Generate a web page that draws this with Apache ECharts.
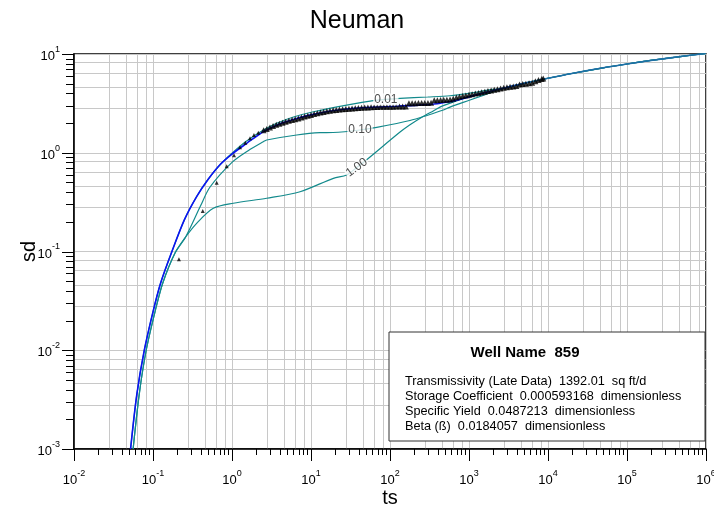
<!DOCTYPE html>
<html>
<head>
<meta charset="utf-8">
<script src="https://cdn.jsdelivr.net/npm/echarts@6/dist/echarts.min.js"></script>
<style>
  html, body { margin: 0; padding: 0; background: #fff; }
  #chart { width: 714px; height: 510px; }
</style>
</head>
<body>
<div id="chart"></div>
<script>
// observed data (triangles)
var tsObs = [0.213, 0.426, 0.640, 0.857, 1.06, 1.263, 1.473, 1.69, 1.897, 2.152,
  2.512, 2.754, 3.020, 3.311, 3.631, 3.981, 4.365, 4.786, 5.248, 5.754, 6.310, 6.918, 7.586, 8.318, 9.120,
  10, 10.96, 12.02, 13.18, 14.45, 15.85, 17.38, 19.05, 20.89, 22.91, 25.12, 27.54, 30.20, 33.11, 36.31, 39.81, 43.65, 47.86, 52.48, 57.54, 63.10, 69.18, 75.86, 83.18, 91.20,
  100, 109.6, 120.2, 131.8, 144.5, 158.5, 173.8, 190.5, 208.9, 229.1, 251.2, 275.4, 302.0, 331.1, 363.1, 398.1, 436.5, 478.6, 524.8, 575.4, 631.0, 691.8, 758.6, 831.8, 912.0,
  1000, 1096, 1202, 1318, 1445, 1585, 1738, 1905, 2089, 2291, 2512, 2754, 3020, 3311, 3631, 3981, 4365, 4786, 5248, 5754, 6310, 6918, 7586, 8318, 8710];
var sdObs = [0.0834, 0.257, 0.497, 0.729, 0.942, 1.136, 1.264, 1.40, 1.512, 1.596,
  1.687, 1.741, 1.801, 1.861, 1.917, 1.968, 2.014, 2.060, 2.105, 2.144, 2.180, 2.223, 2.273, 2.323, 2.371,
  2.418, 2.464, 2.506, 2.549, 2.589, 2.627, 2.665, 2.690, 2.715, 2.736, 2.752, 2.768, 2.787, 2.807, 2.828, 2.840, 2.852, 2.865, 2.877, 2.889, 2.900, 2.911, 2.921, 2.923, 2.925,
  2.927, 2.929, 2.932, 2.934, 2.936, 2.938, 3.168, 3.173, 3.178, 3.183, 3.188, 3.194, 3.199, 3.204, 3.40, 3.41, 3.42, 3.44, 3.45, 3.47, 3.53, 3.63, 3.69, 3.75, 3.80,
  3.86, 3.92, 3.97, 4.03, 4.09, 4.15, 4.22, 4.28, 4.34, 4.40, 4.47, 4.54, 4.60, 4.65, 4.69, 4.74, 4.92, 4.97, 5.01, 5.06, 5.11, 5.29, 5.44, 5.59, 5.65];

// fitted curve (beta = 0.0184)
var tsFit = [0.052, 0.0625, 0.0776, 0.1, 0.125, 0.172, 0.25, 0.357, 0.5, 0.714, 1, 1.535, 2.49, 4, 6.3, 10, 20, 40, 100, 200, 400, 700, 1000, 1500, 2000, 2700, 5000, 1e4, 2e4, 5e4, 1e5, 2e5, 5e5, 1e6];
var sdFit = [0.001, 0.0036, 0.01, 0.0245, 0.048, 0.098, 0.21, 0.36, 0.54, 0.765, 0.97, 1.246, 1.634, 1.96, 2.2, 2.42, 2.68, 2.84, 2.94, 3.02, 3.14, 3.4, 3.68, 4.0, 4.25, 4.49, 5.05, 5.68, 6.35, 7.25, 7.92, 8.6, 9.48, 10.15];

// type curves, beta = 0.01, 0.10, 1.00
var tsB001 = [0.052, 0.0625, 0.0776, 0.1, 0.125, 0.172, 0.25, 0.357, 0.5, 0.714, 1, 1.5, 2.5, 3.68, 6, 10.7, 28.3, 61.5, 88.5, 134, 300, 575, 1000, 2000, 2700, 5000, 1e4, 2e4, 5e4, 1e5, 2e5, 5e5, 1e6];
var sdB001 = [0.001, 0.0036, 0.01, 0.0245, 0.048, 0.098, 0.21, 0.36, 0.54, 0.765, 0.99, 1.30, 1.70, 1.99, 2.3, 2.6, 3.04, 3.37, 3.47, 3.56, 3.67, 3.78, 4.0, 4.38, 4.49, 5.05, 5.68, 6.35, 7.25, 7.92, 8.6, 9.48, 10.15];
var tsB010 = [0.056, 0.067, 0.082, 0.106, 0.133, 0.19, 0.26, 0.4, 0.527, 1.0, 1.6, 2.49, 2.75, 6.59, 13.0, 19.0, 41.7, 67.9, 179, 300, 473, 575, 1030, 2030, 2700, 5000, 1e4, 2e4, 5e4, 1e5, 2e5, 5e5, 1e6];
var sdB010 = [0.001, 0.0036, 0.01, 0.0245, 0.048, 0.0966, 0.141, 0.29, 0.45, 0.80, 1.05, 1.294, 1.346, 1.512, 1.596, 1.603, 1.70, 1.81, 2.12, 2.4, 2.71, 2.9, 3.42, 4.15, 4.49, 5.05, 5.68, 6.35, 7.25, 7.92, 8.6, 9.48, 10.15];
var tsB100 = [0.056, 0.067, 0.082, 0.106, 0.133, 0.19, 0.26, 0.357, 0.58, 1.039, 2.75, 7.26, 19.2, 28.3, 37.9, 50.7, 134, 179, 250, 353, 473, 1251, 2700, 5000, 1e4, 2e4, 5e4, 1e5, 2e5, 5e5, 1e6];
var sdB100 = [0.001, 0.0036, 0.01, 0.0245, 0.048, 0.0966, 0.141, 0.193, 0.274, 0.308, 0.346, 0.403, 0.551, 0.595, 0.709, 0.85, 1.62, 1.92, 2.28, 2.65, 3.0, 3.9, 4.49, 5.05, 5.68, 6.35, 7.25, 7.92, 8.6, 9.48, 10.15];

// curve labels: text, ts, sd, rotation
var curveLabels = ['0.01', '0.10', '1.00'];
var curveLabelTs = [88.5, 41.7, 37.9];
var curveLabelSd = [3.47, 1.70, 0.709];
var curveLabelRot = [0, 0, 36];

var infoTitle = 'Well Name  859';
var infoLines = [
  'Transmissivity (Late Data)  1392.01  sq ft/d',
  'Storage Coefficient  0.000593168  dimensionless',
  'Specific Yield  0.0487213  dimensionless',
  'Beta (\u00df)  0.0184057  dimensionless'
];

var xMin = 0.01, xMax = 1e6, yMin = 0.001, yMax = 10;
var FONT = 'Liberation Sans, Arial, Helvetica, sans-serif';
var GRID_GRAY = '#c8c8c8';

function zip(a, b) {
  var out = [];
  for (var i = 0; i < a.length; i++) out.push([a[i], b[i]]);
  return out;
}

// decade tick values: majors at 10^e, minors at 2..9 x 10^e
function decadeTicks(lo, hi) {
  var major = [], minor = [];
  var e0 = Math.round(Math.log10(lo)), e1 = Math.round(Math.log10(hi));
  for (var e = e0; e <= e1; e++) {
    major.push(Math.pow(10, e));
    if (e < e1) for (var m = 2; m <= 9; m++) minor.push(m * Math.pow(10, e));
  }
  return { major: major, minor: minor };
}
var xTicks = decadeTicks(xMin, xMax);
var yTicks = decadeTicks(yMin, yMax);

function powLabel(v) {
  var e = Math.round(Math.log10(v));
  return '{b|10}{sup|' + e + '}';
}
var labelRich = {
  b: { fontSize: 13, fontFamily: FONT, color: '#000', lineHeight: 18, verticalAlign: 'bottom' },
  sup: { fontSize: 9, fontFamily: FONT, color: '#000', lineHeight: 10, verticalAlign: 'top' }
};

function logAxis(min, max, splitNumber, name, nameGap, labelMargin) {
  return {
    type: 'log', logBase: 10, min: min, max: max, splitNumber: splitNumber,
    name: name, nameLocation: 'middle', nameGap: nameGap, nameMoveOverlap: false,
    nameTextStyle: { fontSize: 20, fontFamily: FONT, color: '#000' },
    axisLine: { lineStyle: { color: '#000', width: 1.5 } },
    axisTick: { show: false },
    minorTick: { show: false },
    axisLabel: { formatter: powLabel, rich: labelRich, margin: labelMargin },
    splitLine: { show: true, lineStyle: { color: GRID_GRAY, width: 1 } },
    minorSplitLine: { show: true, lineStyle: { color: GRID_GRAY, width: 1 } }
  };
}

var chart = echarts.init(document.getElementById('chart'));

chart.setOption({
  animation: false,
  backgroundColor: '#fff',
  title: {
    text: 'Neuman',
    left: 'center',
    top: 4,
    textStyle: { fontSize: 25, fontWeight: 'normal', fontFamily: FONT, color: '#000' }
  },
  grid: {
    left: 74, right: 8, top: 54, bottom: 61, containLabel: false, outerBoundsMode: 'none',
    show: true, borderColor: '#000', borderWidth: 1.5, backgroundColor: 'transparent'
  },
  xAxis: logAxis(xMin, xMax, 8, 'ts', 39, 20),
  yAxis: logAxis(yMin, yMax, 4, 'sd', 35, 14),
  series: [
    { type: 'line', name: 'beta 0.01', data: zip(tsB001, sdB001), smooth: 0.3, showSymbol: false, z: 3,
      lineStyle: { color: '#138a8c', width: 1.2 } },
    { type: 'line', name: 'beta 0.10', data: zip(tsB010, sdB010), smooth: 0.3, showSymbol: false, z: 3,
      lineStyle: { color: '#138a8c', width: 1.2 } },
    { type: 'line', name: 'beta 1.00', data: zip(tsB100, sdB100), smooth: 0.3, showSymbol: false, z: 3,
      lineStyle: { color: '#138a8c', width: 1.2 } },
    { type: 'line', name: 'fit', data: zip(tsFit, sdFit), smooth: 0.3, showSymbol: false, z: 4,
      lineStyle: { width: 1.6, color: {
        type: 'linear', x: 0, y: 0, x2: 1, y2: 0,
        colorStops: [
          { offset: 0, color: '#0a14f0' }, { offset: 0.6, color: '#0a14f0' },
          { offset: 0.7, color: '#1f6ea6' }, { offset: 1, color: '#1f6ea6' }
        ] } } },
    { type: 'scatter', name: 'observed', data: zip(tsObs, sdObs), symbol: 'triangle', z: 5,
      symbolSize: function (val, params) { return params.dataIndex < 10 ? 4 : 6; },
      itemStyle: { color: '#000' } },
    {
      type: 'scatter', name: 'labels', z: 6, symbolSize: 1, silent: true,
      itemStyle: { color: 'rgba(0,0,0,0)' },
      data: curveLabels.map(function (t, i) {
        return {
          name: t, value: [curveLabelTs[i], curveLabelSd[i]],
          label: { show: true, position: 'inside', formatter: t, rotate: curveLabelRot[i],
            fontSize: 12, fontFamily: FONT, color: '#222', backgroundColor: '#fff', padding: [0, 1] }
        };
      })
    }
  ]
});

// axis ticks on their own top layer, placed through the axes' scales
var tickEls = [];
function tickLine(x1, y1, x2, y2) {
  return { type: 'line', zlevel: 1, z: 10, silent: true,
    shape: { x1: x1, y1: y1, x2: x2, y2: y2 }, style: { stroke: '#000', lineWidth: 1 } };
}
var finder = { xAxisIndex: 0, yAxisIndex: 0 };
[[xTicks.major, 12], [xTicks.minor, 6]].forEach(function (g) {
  g[0].forEach(function (v) {
    var p = chart.convertToPixel(finder, [v, yMin]);
    var x = Math.round(p[0]) + 0.5;
    tickEls.push(tickLine(x, p[1], x, p[1] + g[1]));
  });
});
[[yTicks.major, 12], [yTicks.minor, 8]].forEach(function (g) {
  g[0].forEach(function (v) {
    var p = chart.convertToPixel(finder, [xMin, v]);
    var y = Math.round(p[1]) + 0.5;
    tickEls.push(tickLine(p[0] - g[1], y, p[0], y));
  });
});

var infoEls = [
  { type: 'rect', z: 100, shape: { x: 389, y: 332, width: 316, height: 109 },
    style: { fill: '#fff', stroke: '#333', lineWidth: 1 } },
  { type: 'text', z: 101, x: 525, y: 353,
    style: { text: infoTitle, font: 'bold 15px ' + FONT, fill: '#000', textAlign: 'center', textVerticalAlign: 'middle' } }
].concat(infoLines.map(function (t, i) {
  return { type: 'text', z: 101, x: 405, y: 381 + i * 15,
    style: { text: t, font: '12.7px ' + FONT, fill: '#000', textAlign: 'left', textVerticalAlign: 'middle' } };
}));

chart.setOption({ graphic: tickEls.concat(infoEls) });
</script>
</body>
</html>
